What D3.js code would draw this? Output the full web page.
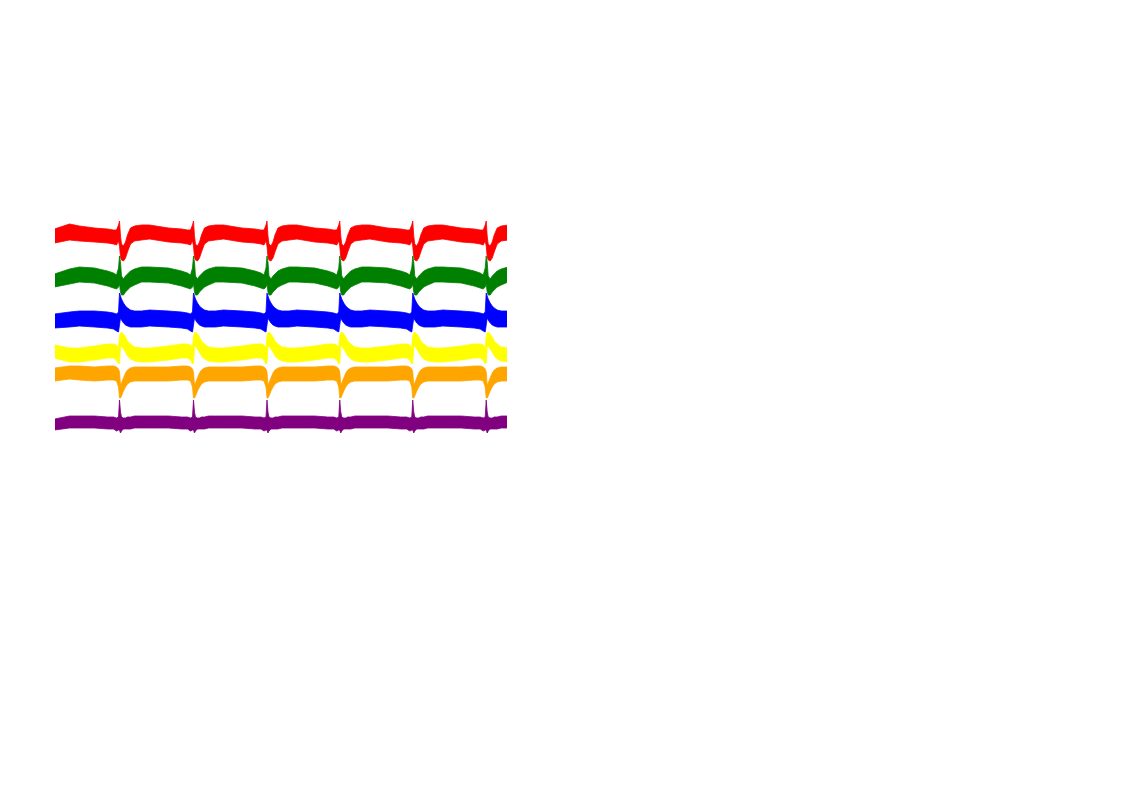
<!DOCTYPE html>
<html>
<head>
<meta charset="utf-8">
<script src="https://cdn.jsdelivr.net/npm/d3@7"></script>
<style>
  html, body { margin: 0; padding: 0; background: #ffffff; }
  svg { display: block; }
</style>
</head>
<body>
<div id="chart"></div>
<script>
// ---- Data (time in ms, amplitude in mV) ----
const leadNames = ["Lead 1", "Lead 2", "Lead 3", "Lead 4", "Lead 5", "Lead 6"];
const leadColors = ["red", "green", "blue", "yellow", "orange", "purple"];
const leadOffsets = [0, -2.1, -4.15, -5.9, -6.95, -9.35];

// spike (beat) times in ms
const beatTimes = [1427, 3064, 4690, 6300, 7915, 9540];

// beat template time offsets (ms, relative to beat)
const templateT = [-1438, -1106, -885, -553, -265, -133, -66, -22, 0, 22, 44, 88, 133, 177, 243, 332, 487, 664, 885];

// upper / lower envelope of each lead's signal (mV) at the template offsets
const redHi    = [0.30,0.55,0.45,0.35,0.30,0.25,0.25,0.50,0.70,-0.05,-0.45,-0.55,-0.35,0.00,0.35,0.45,0.50,0.50,0.45];
const redLo    = [-0.40,-0.25,-0.30,-0.35,-0.40,-0.45,-0.50,-0.30,-0.55,-1.10,-1.25,-1.30,-1.15,-0.85,-0.45,-0.30,-0.25,-0.20,-0.25];
const greenHi  = [0.15,0.40,0.50,0.45,0.30,0.20,0.10,0.45,1.05,0.75,0.05,-0.10,0.05,0.15,0.30,0.40,0.50,0.50,0.45];
const greenLo  = [-0.50,-0.35,-0.25,-0.30,-0.45,-0.55,-0.60,-0.50,-0.35,-0.75,-0.90,-0.90,-0.75,-0.65,-0.50,-0.40,-0.25,-0.25,-0.25];
const blueHi   = [0.20,0.30,0.35,0.35,0.30,0.25,0.20,0.30,1.25,1.10,0.95,0.75,0.60,0.50,0.40,0.35,0.35,0.40,0.35];
const blueLo   = [-0.50,-0.45,-0.40,-0.45,-0.50,-0.55,-0.65,-0.70,-0.35,0.00,-0.10,-0.25,-0.35,-0.40,-0.45,-0.45,-0.45,-0.40,-0.45];
const yellowHi = [0.40,0.25,0.25,0.35,0.45,0.45,0.40,0.25,0.85,1.00,1.05,0.95,0.80,0.60,0.45,0.30,0.25,0.25,0.30];
const yellowLo = [-0.25,-0.45,-0.45,-0.35,-0.25,-0.25,-0.35,-0.55,-0.50,0.30,0.35,0.20,0.05,-0.15,-0.30,-0.40,-0.45,-0.45,-0.40];
const orangeHi = [0.30,0.40,0.40,0.35,0.40,0.40,0.35,0.25,0.10,-0.55,-0.45,-0.20,0.05,0.20,0.30,0.35,0.35,0.35,0.35];
const orangeLo = [-0.35,-0.25,-0.30,-0.35,-0.30,-0.30,-0.35,-0.65,-1.20,-1.20,-1.10,-0.85,-0.65,-0.50,-0.40,-0.35,-0.35,-0.35,-0.35];
const purpleHi = [0.15,0.30,0.30,0.30,0.25,0.25,0.20,0.25,1.10,0.50,0.25,0.20,0.20,0.25,0.25,0.30,0.30,0.30,0.30];
const purpleLo = [-0.40,-0.30,-0.30,-0.30,-0.35,-0.35,-0.45,-0.40,-0.40,-0.55,-0.45,-0.35,-0.35,-0.35,-0.35,-0.30,-0.30,-0.30,-0.30];

const timeDomain = [0, 10000];
const ampDomain = [1, -10.25];

// ---- Layout ----
const W = 1122, H = 793;
const plot = { left: 55, right: 507, top: 215, bottom: 440 };

const svg = d3.select("#chart").append("svg")
  .attr("width", W).attr("height", H)
  .attr("viewBox", `0 0 ${W} ${H}`);

svg.append("rect").attr("width", W).attr("height", H).attr("fill", "#ffffff");

const x = d3.scaleLinear().domain(timeDomain).range([plot.left, plot.right]);
const y = d3.scaleLinear().domain(ampDomain).range([plot.top, plot.bottom]);

svg.append("defs").append("clipPath").attr("id", "clip")
  .append("rect")
  .attr("x", plot.left).attr("y", 0)
  .attr("width", plot.right - plot.left).attr("height", H);

const envelopes = [
  [redHi, redLo], [greenHi, greenLo], [blueHi, blueLo],
  [yellowHi, yellowLo], [orangeHi, orangeLo], [purpleHi, purpleLo]
];

function buildSeries(hi, lo, offset) {
  const pts = [];
  beatTimes.forEach((b, i) => {
    const tStart = i === 0 ? -Infinity : (beatTimes[i - 1] + b) / 2 - b;
    const tEnd = i === beatTimes.length - 1 ? Infinity : (b + beatTimes[i + 1]) / 2 - b;
    templateT.forEach((t, k) => {
      if (t >= tStart && t < tEnd) {
        pts.push({ t: b + t, hi: hi[k] + offset, lo: lo[k] + offset });
      }
    });
  });
  return pts;
}

const area = d3.area()
  .x(d => x(d.t))
  .y0(d => y(d.lo))
  .y1(d => y(d.hi))
  .curve(d3.curveLinear);

const g = svg.append("g").attr("clip-path", "url(#clip)");

leadNames.forEach((name, i) => {
  const series = buildSeries(envelopes[i][0], envelopes[i][1], leadOffsets[i]);
  g.append("path")
    .datum(series)
    .attr("class", "lead")
    .attr("data-lead", name)
    .attr("d", area)
    .attr("fill", leadColors[i])
    .attr("stroke", leadColors[i])
    .attr("stroke-width", 0.8)
    .attr("stroke-linejoin", "round");
});
</script>
</body>
</html>
